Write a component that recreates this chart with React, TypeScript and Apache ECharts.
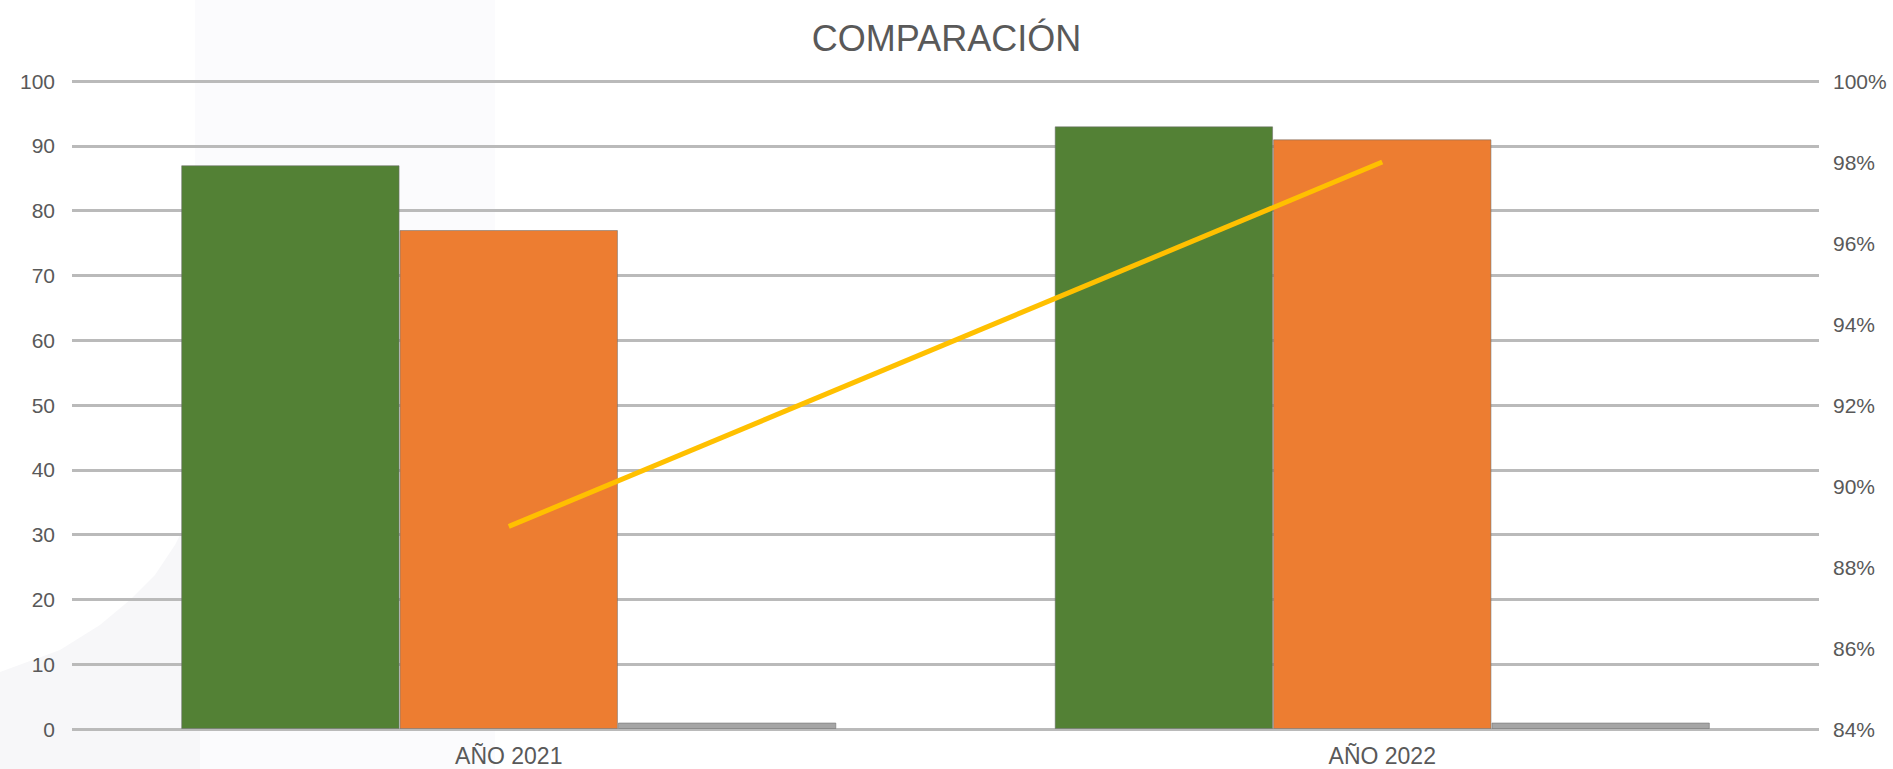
import React, { useEffect, useRef } from "react";
import * as echarts from "echarts";

const categories = ["AÑO 2021", "AÑO 2022"];
const serieVerde = [87, 93];
const serieNaranja = [77, 91];
const serieGris = [1, 1];
const porcentaje = [89, 98];
const leftTicks = { min: 0, max: 100, interval: 10 };
const rightTicks = { min: 84, max: 100, interval: 2 };

export default function App() {
  const ref = useRef<HTMLDivElement>(null);
  useEffect(() => {
    if (!ref.current) return;
    const chart = echarts.init(ref.current, null, { renderer: "svg" });
    const labelFont = "'Liberation Sans', Arial, sans-serif";
    const barBorder = { borderColor: "rgba(110,110,110,0.55)", borderWidth: 1 };
    chart.setOption({
      animation: false,
      backgroundColor: "#ffffff",
      title: {
        text: "COMPARACIÓN",
        left: "center",
        top: 15,
        textStyle: { fontFamily: labelFont, fontSize: 36, fontWeight: "normal", color: "#595959" },
      },
      graphic: [
        {
          type: "polygon",
          z: -10,
          silent: true,
          shape: {
            points: [
              [0, 672], [60, 650], [100, 625], [130, 600], [155, 575], [175, 545], [190, 515],
              [200, 490], [200, 769], [0, 769],
            ],
          },
          style: { fill: "#f7f7f9" },
        },
        {
          type: "rect",
          z: -11,
          silent: true,
          shape: { x: 195, y: 0, width: 300, height: 769 },
          style: { fill: "#fbfbfd" },
        },
      ],
      grid: { left: 72, right: 74, top: 81, bottom: 40, containLabel: false },
      xAxis: {
        type: "category",
        data: categories,
        axisLine: { show: false },
        axisTick: { show: false },
        axisLabel: { fontFamily: labelFont, fontSize: 23, color: "#595959", margin: 15 },
      },
      yAxis: [
        {
          type: "value",
          min: leftTicks.min,
          max: leftTicks.max,
          interval: leftTicks.interval,
          axisLine: { show: false },
          axisTick: { show: false },
          axisLabel: { fontFamily: labelFont, fontSize: 21, color: "#595959", margin: 17 },
          splitLine: { lineStyle: { color: "#bababa", width: 3 } },
        },
        {
          type: "value",
          min: rightTicks.min,
          max: rightTicks.max,
          interval: rightTicks.interval,
          position: "right",
          axisLine: { show: false },
          axisTick: { show: false },
          splitLine: { show: false },
          axisLabel: {
            fontFamily: labelFont,
            fontSize: 21,
            color: "#595959",
            margin: 14,
            formatter: "{value}%",
          },
        },
      ],
      series: [
        {
          name: "Serie 1",
          type: "bar",
          data: serieVerde,
          barGap: "0%",
          barCategoryGap: "25%",
          itemStyle: { color: "#538135", ...barBorder },
        },
        {
          name: "Serie 2",
          type: "bar",
          data: serieNaranja,
          barGap: "0%",
          barCategoryGap: "25%",
          itemStyle: { color: "#ED7D31", ...barBorder },
        },
        {
          name: "Serie 3",
          type: "bar",
          data: serieGris,
          barGap: "0%",
          barCategoryGap: "25%",
          itemStyle: { color: "#a5a5a5", ...barBorder },
        },
        {
          name: "Porcentaje",
          type: "line",
          yAxisIndex: 1,
          data: porcentaje,
          symbol: "none",
          lineStyle: { color: "#FFC000", width: 5 },
          z: 5,
        },
      ],
    });
    return () => chart.dispose();
  }, []);
  return (
    <div
      ref={ref}
      style={{ position: "fixed", left: 0, top: 0, width: 1893, height: 769 }}
    />
  );
}
